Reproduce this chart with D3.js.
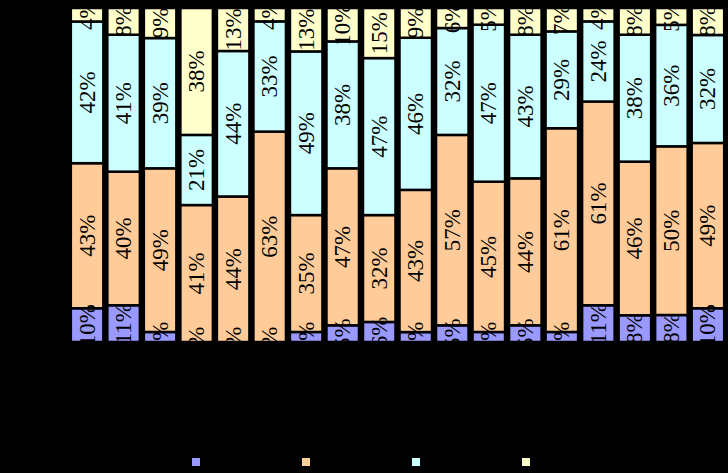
<!DOCTYPE html>
<html><head><meta charset="utf-8">
<script src="https://cdn.jsdelivr.net/npm/d3@7"></script>
<style>html,body{margin:0;padding:0;background:#000;}svg{display:block;}</style>
</head><body>
<svg id="c" width="728" height="473"></svg>
<script>
const categories = ["1","2","3","4","5","6","7","8","9","10","11","12","13","14","15","16","17","18"];
const seriesNames = ["Series 1","Series 2","Series 3","Series 4"];
const s1 = [10,11,3,0,0,0,3,5,6,3,5,3,5,3,11,8,8,10];
const s2 = [43,40,49,41,44,63,35,47,32,43,57,45,44,61,61,46,50,49];
const s3 = [42,41,39,21,44,33,49,38,47,46,32,47,43,29,24,38,36,32];
const s4 = [4,8,9,38,13,4,13,10,15,9,6,5,8,7,4,8,5,8];
const colors = ["#9999ff","#ffcc99","#ccffff","#ffffcc"];

const FONT = '"Liberation Serif","Times New Roman",serif';
const svg = d3.select("#c");
const plot = {left: 69, right: 726, top: 8, bottom: 342};

const rows = categories.map((c,i)=>({cat:c, k0:s1[i], k1:s2[i], k2:s3[i], k3:s4[i]}));
const keys = ["k0","k1","k2","k3"];
const series = d3.stack().keys(keys).offset(d3.stackOffsetExpand)(rows);

const x = d3.scaleBand().domain(categories).range([plot.left, plot.right]).paddingInner(0.11).paddingOuter(0.05);
const y = d3.scaleLinear().domain([0,1]).range([plot.bottom, plot.top]);

svg.append("defs").append("clipPath").attr("id","clip")
  .append("rect").attr("x",plot.left-2).attr("y",plot.top).attr("width",plot.right-plot.left+4).attr("height",plot.bottom-plot.top);

const g = svg.append("g").attr("clip-path","url(#clip)");

series.forEach((s,si)=>{
  g.append("g").selectAll("rect").data(s).join("rect")
    .attr("x", d=>x(d.data.cat))
    .attr("width", x.bandwidth())
    .attr("y", d=>y(d[1]))
    .attr("height", d=>Math.max(0,y(d[0])-y(d[1])))
    .attr("fill", colors[si])
    .attr("stroke","#000").attr("stroke-width",2.5);
});

series.forEach((s,si)=>{
  g.append("g").selectAll("text").data(s).join("text")
    .attr("transform", d=>`translate(${x(d.data.cat)+x.bandwidth()/2},${(y(d[0])+y(d[1]))/2}) rotate(-90)`)
    .attr("text-anchor","middle").attr("dominant-baseline","central")
    .style("font-family", FONT)
    .style("font-size","23px")
    .attr("fill","#000")
    .text(d=>d.data[keys[si]]+"%");
});

svg.append("g").attr("transform",`translate(0,${plot.bottom})`)
  .call(d3.axisBottom(x).tickSize(0))
  .call(a=>a.select(".domain").remove())
  .selectAll("text").attr("fill","#000").style("font-family",FONT).style("font-size","14px");

const lx = [192,302,412,522];
const leg = svg.append("g");
seriesNames.forEach((n,i)=>{
  leg.append("rect").attr("x",lx[i]).attr("y",458).attr("width",8).attr("height",8).attr("fill",colors[i]);
  leg.append("text").attr("x",lx[i]+13).attr("y",466).attr("fill","#000").style("font-family",FONT).style("font-size","13px").text(n);
});
</script>
</body></html>
